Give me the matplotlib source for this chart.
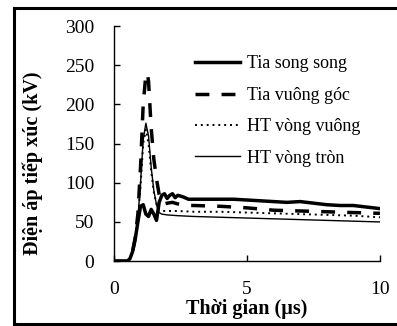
import matplotlib.pyplot as plt
from matplotlib.lines import Line2D

plt.rcParams['font.family'] = ['Liberation Serif', 'DejaVu Serif']
plt.rcParams['font.size'] = 11

# Điện áp tiếp xúc (kV) theo thời gian (µs)
t_song_song = [0, 0.5, 0.6, 0.7, 0.8, 0.9, 1.0, 1.1, 1.2, 1.3, 1.4, 1.5, 1.6, 1.7, 1.8,
               1.9, 2.0, 2.1, 2.2, 2.3, 2.4, 2.6, 2.8, 3.0, 3.5, 4.0, 4.5, 5.0, 5.5, 6.0,
               6.5, 7.0, 7.5, 8.0, 8.5, 9.0, 9.5, 10.0]
v_song_song = [0, 0, 3, 12, 28, 50, 70, 72, 60, 57, 66, 60, 52, 75, 84,
               86, 80, 84, 86, 81, 84, 82, 79, 79, 79, 79, 79, 78, 77, 76,
               75, 76, 74, 72, 71, 71, 69, 67]

t_vuong_goc = [0, 0.5, 0.6, 0.7, 0.8, 0.9, 1.0, 1.1, 1.2, 1.25, 1.3, 1.4, 1.5, 1.6, 1.7,
               1.8, 1.9, 2.0, 2.2, 2.4, 2.6, 2.8, 3.0, 4.0, 5.0, 6.0, 7.0, 8.0, 9.0, 10.0]
v_vuong_goc = [0, 0, 3, 12, 30, 60, 120, 200, 238, 240, 230, 170, 130, 105, 85,
               76, 73, 74, 75, 73, 72, 71, 71, 70, 68, 65, 64, 63, 62, 61]

t_vong_vuong = [0, 0.5, 0.6, 0.7, 0.8, 0.9, 1.0, 1.1, 1.2, 1.3, 1.4, 1.5, 1.6, 1.7, 1.8,
                2.0, 2.4, 3.0, 4.0, 5.0, 6.0, 7.0, 8.0, 9.0, 10.0]
v_vong_vuong = [0, 0, 3, 12, 28, 55, 95, 150, 168, 150, 115, 88, 73, 66, 64,
                64, 64, 63, 63, 62, 61, 60, 59, 58, 56]

t_vong_tron = [0, 0.5, 0.6, 0.7, 0.8, 0.9, 1.0, 1.1, 1.2, 1.3, 1.4, 1.5, 1.6, 1.7, 1.8,
               2.0, 2.4, 3.0, 4.0, 5.0, 6.0, 7.0, 8.0, 9.0, 10.0]
v_vong_tron = [0, 0, 3, 12, 28, 55, 100, 155, 176, 160, 120, 90, 72, 62, 60,
               59, 58, 57, 56, 55, 54, 53, 52, 51, 50]

fig = plt.figure(figsize=(3.97, 3.26), dpi=100)
ax = fig.add_axes([0.287, 0.199, 0.670, 0.721])

ax.plot(t_song_song, v_song_song, color='black', lw=2.5, label='Tia song song')
ax.plot(t_vuong_goc, v_vuong_goc, color='black', lw=2.5, linestyle=(0, (4, 3.5)),
        label='Tia vuông góc')
ax.plot(t_vong_vuong, v_vong_vuong, color='black', lw=1.4, linestyle=(0, (1, 2)),
        label='HT vòng vuông')
ax.plot(t_vong_tron, v_vong_tron, color='black', lw=1.0, label='HT vòng tròn')

ax.set_xlim(0, 10)
ax.set_ylim(0, 300)
ax.set_xticks([0, 5, 10])
ax.set_yticks([0, 50, 100, 150, 200, 250, 300])
ax.tick_params(direction='in', length=4, width=1, pad=14, labelsize=14)
ax.spines['top'].set_visible(False)
ax.spines['right'].set_visible(False)
for s in ('left', 'bottom'):
    ax.spines[s].set_linewidth(1.0)

ax.set_xlabel('Thời gian (µs)', fontweight='bold', fontsize=14.5, labelpad=1)
fig.text(0.083, 0.50, 'Điện áp tiếp xúc (kV)', rotation=90, fontweight='bold',
         fontsize=14.5, ha='center', va='center')

ax.legend(loc='upper left', bbox_to_anchor=(0.276, 0.906), frameon=False,
          handlelength=2.5, handletextpad=0.4, labelspacing=0.8,
          borderaxespad=0, fontsize=13)

# khung viền ngoài
for xs, ys in [([13.5, 13.5], [7.5, 323.5]),
               ([13.5, 400], [7.5, 7.5]),
               ([13.5, 400], [323.5, 323.5])]:
    fig.add_artist(Line2D([x / 397 for x in xs], [1 - y / 326 for y in ys],
                          color='black', lw=2.2))

fig.savefig('out.png', dpi=100)
